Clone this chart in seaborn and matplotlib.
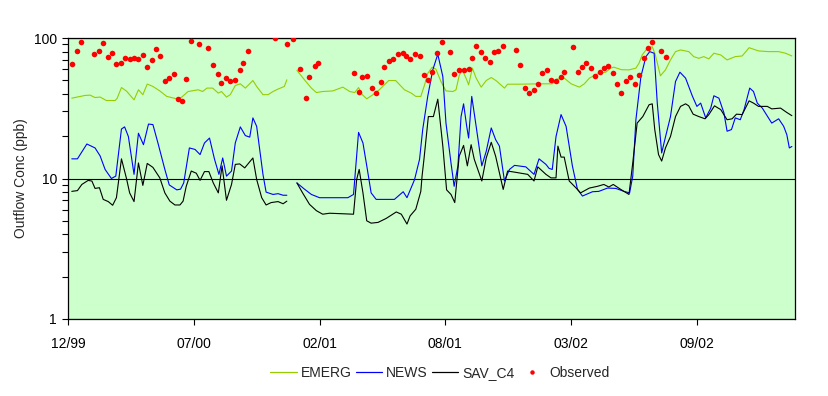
import matplotlib
matplotlib.use("Agg")
import matplotlib.pyplot as plt
import matplotlib.dates as mdates
from matplotlib.lines import Line2D
from matplotlib.ticker import LogLocator, NullFormatter, FuncFormatter, FixedLocator
import numpy as np
import pandas as pd
import seaborn as sns

# day offsets from 1999-12-31, values in ppb
START = pd.Timestamp("1999-12-31")
SEG_BREAK = 356  # model output has a gap around Jan 2001

emerg_days = [6, 27, 35, 43, 51, 61, 75, 78, 85, 93, 105, 112, 119, 126, 135, 146, 157, 173, 180,
              191, 207, 214, 221, 230, 239, 244, 252, 258, 266, 274, 282, 294, 300, 310, 318, 326,
              334, 344, 348,
              364, 376, 387, 395, 405, 421, 437, 448, 456, 462, 468, 475, 485, 495, 510, 521, 535,
              546, 553, 561, 567, 572, 579, 585, 593, 601, 612, 617, 622, 627, 634, 637, 643, 649,
              657, 665, 673, 681, 694, 699, 717, 749, 770, 778, 789, 800, 813, 821, 829, 842, 855,
              863, 868, 880, 892, 903, 908, 913, 921, 929, 934, 942, 950, 958, 966, 974, 987, 995,
              1003, 1011, 1019, 1027, 1038, 1048, 1061, 1072, 1083, 1098, 1114, 1130, 1141, 1151]
emerg_vals = [37.3, 39.0, 39.2, 37.7, 38.0, 35.9, 35.9, 37.1, 44.4, 41.9, 36.3, 42.8, 39.5, 47.0,
              45.2, 42.0, 38.4, 36.9, 37.7, 41.6, 42.8, 41.6, 44.0, 44.0, 40.5, 41.6, 38.0, 39.5,
              45.9, 47.2, 44.0, 49.8, 45.2, 39.5, 39.5, 41.6, 43.3, 45.2, 50.4,
              58.8, 50.4, 44.0, 40.9, 41.6, 42.0, 44.7, 41.6, 40.9, 44.4, 39.5, 36.9, 39.5, 42.8,
              49.8, 49.8, 42.8, 40.5, 38.4, 38.4, 46.4, 56.0, 62.0, 60.0, 49.0, 42.0, 41.6, 42.8,
              54.0, 59.3, 50.4, 46.4, 61.0, 51.8, 44.7, 49.8, 52.3, 49.6, 44.0, 46.9, 46.9, 47.2,
              47.2, 51.0, 51.8, 47.2, 44.7, 47.2, 51.8, 55.6, 57.1, 61.0, 62.0, 59.5, 59.3, 61.0,
              66.2, 75.7, 84.4, 86.7, 75.7, 53.8, 59.3, 69.8, 80.0, 82.2, 80.0, 73.7, 71.7, 73.7,
              71.0, 77.9, 75.7, 69.8, 73.7, 74.5, 85.3, 80.9, 80.0, 80.0, 77.9, 74.5]

news_days = [6, 15, 30, 43, 51, 59, 69, 76, 85, 90, 96, 105, 112, 120, 128, 135, 143, 154, 161,
             173, 179, 184, 193, 202, 210, 217, 225, 233, 240, 246, 252, 260, 266, 274, 282, 289,
             294, 300, 310, 315, 326, 334, 342, 348,
             364, 376, 387, 400, 445, 454, 462, 469, 476, 482, 490, 519, 533, 539, 551, 559, 564,
             572, 580, 588, 596, 601, 609, 614, 620, 625, 629, 634, 637, 642, 649, 658, 665, 673,
             680, 686, 694, 702, 710, 728, 741, 749, 760, 765, 770, 776, 784, 792, 802, 810, 818,
             834, 844, 858, 871, 884, 893, 898, 903, 911, 919, 925, 932, 937, 944, 949, 958, 966,
             973, 982, 993, 1000, 1006, 1014, 1022, 1027, 1035, 1043, 1048, 1055, 1061, 1069,
             1075, 1084, 1090, 1096, 1104, 1119, 1130, 1138, 1143, 1147, 1151]
news_vals = [13.8, 13.8, 17.6, 16.5, 14.5, 11.6, 10.0, 10.4, 22.5, 23.3, 19.9, 10.7, 21.0, 17.4,
             24.4, 24.2, 17.9, 11.6, 9.0, 8.3, 8.4, 9.3, 16.5, 16.1, 14.8, 17.9, 19.4, 13.7, 10.7,
             14.0, 10.4, 11.3, 17.9, 23.3, 20.2, 19.7, 27.0, 23.5, 10.7, 8.0, 7.7, 7.8, 7.6, 7.6,
             9.3, 8.4, 7.7, 7.3, 7.3, 7.7, 21.3, 17.9, 11.6, 7.9, 7.1, 7.1, 8.05, 7.3, 9.8, 13.7,
             22.3, 38.4, 59.3, 76.6, 53.2, 24.8, 12.9, 8.8, 12.3, 27.6, 34.0, 23.5, 19.4, 38.4,
             23.5, 12.3, 15.6, 22.9, 18.9, 17.0, 9.6, 11.6, 12.4, 12.1, 10.7, 13.8, 12.6, 11.8,
             11.6, 19.9, 28.5, 23.5, 12.3, 8.4, 7.5, 8.05, 8.1, 8.55, 8.5, 8.1, 7.9, 10.4, 26.2,
             53.2, 73.7, 80.0, 77.9, 34.4, 15.2, 18.9, 27.6, 49.0, 57.1, 51.8, 38.4, 32.6, 34.4,
             27.0, 31.7, 38.8, 37.3, 29.3, 21.7, 22.3, 27.0, 26.2, 30.9, 44.0, 41.6, 34.4, 31.7,
             24.8, 26.6, 23.5, 20.5, 16.5, 16.9]

sav_days = [6, 15, 22, 32, 38, 43, 50, 56, 64, 71, 77, 85, 93, 98, 105, 112, 119, 126, 135, 146,
            154, 162, 170, 178, 183, 188, 196, 204, 210, 217, 224, 231, 239, 245, 252, 260, 266,
            273, 281, 294, 300, 308, 315, 323, 334, 342, 348,
            364, 373, 384, 395, 405, 416, 454, 459, 463, 469, 475, 482, 493, 506, 522, 530, 539,
            544, 553, 561, 563, 566, 573, 581, 588, 596, 602, 609, 615, 622, 629, 635, 641, 646,
            658, 665, 673, 680, 692, 699, 710, 731, 741, 747, 760, 768, 776, 779, 784, 789, 797,
            808, 815, 829, 842, 852, 860, 867, 879, 892, 898, 905, 914, 924, 929, 933, 939, 944,
            950, 958, 966, 974, 982, 987, 994, 1003, 1013, 1019, 1028, 1038, 1048, 1056, 1063,
            1072, 1083, 1090, 1098, 1112, 1119, 1133, 1143, 1151]
sav_vals = [8.1, 8.2, 9.07, 9.69, 9.59, 8.5, 8.6, 7.1, 6.85, 6.45, 7.3, 13.8, 10.0, 7.9, 6.85,
            12.9, 8.93, 12.8, 12.0, 10.1, 7.9, 6.9, 6.48, 6.48, 6.9, 8.8, 11.3, 10.9, 9.7, 11.2,
            11.2, 9.3, 7.9, 12.3, 7.0, 9.07, 12.6, 12.7, 11.9, 14.0, 9.84, 7.3, 6.48, 6.74, 6.85,
            6.61, 6.9,
            9.3, 7.9, 6.55, 5.9, 5.57, 5.66, 5.57, 9.84, 11.6, 7.9, 5.0, 4.81, 4.87, 5.2, 5.78,
            5.57, 4.74, 5.42, 6.04, 8.1, 10.4, 13.7, 27.6, 27.6, 36.7, 17.0, 8.3, 7.7, 6.74, 14.4,
            17.2, 12.3, 17.4, 13.7, 9.6, 14.0, 18.1, 14.4, 8.36, 11.3, 11.1, 10.7, 9.6, 12.1, 10.7,
            10.1, 10.1, 17.0, 14.2, 14.2, 9.6, 8.55, 7.9, 8.55, 8.8, 9.07, 8.7, 9.07, 8.36, 7.7,
            12.9, 24.8, 27.6, 33.5, 34.0, 22.3, 14.8, 13.3, 16.5, 19.9, 27.6, 32.6, 34.0, 32.9,
            28.7, 27.6, 26.6, 28.5, 32.9, 30.9, 26.2, 26.6, 28.7, 28.5, 35.7, 34.4, 32.6, 32.6,
            31.3, 31.7, 29.5, 28.0]

obs_days = [6, 14, 20, 41, 49, 55, 63, 70, 76, 84, 90, 98, 105, 111, 119, 125, 133, 140, 146,
            154, 160, 168, 175, 181, 188, 195, 209, 223, 230, 238, 244, 251, 258, 265, 273, 279,
            286, 329, 349, 357,
            369, 378, 384, 392, 398, 454, 462, 468, 475, 483, 489, 497, 503, 510, 517, 524, 532,
            538, 544, 552, 559, 566, 573, 579, 587, 594, 608, 614, 622, 629, 637, 643, 649, 657,
            663, 671, 677, 684, 692, 713, 719, 727, 733, 741, 748, 754, 762, 768, 776,
            784, 789, 803, 811, 817, 824, 832, 838, 846, 852, 859, 866, 873, 880, 887, 894, 902,
            908, 916, 922, 929, 943, 951]
obs_vals = [65.7, 81.3, 94.1, 77.4, 81.3, 92.6, 73.7, 78.6, 65.7, 66.8, 72.5, 71.3, 72.5, 71.3,
            76.2, 62.6, 70.1, 83.9, 74.9, 49.8, 52.3, 55.8, 37.1, 35.7, 51.2, 95.7, 91.1, 85.3,
            64.6, 55.2, 48.1, 52.3, 49.8, 50.6, 59.6, 66.8, 81.3, 100.5, 91.1, 98.9,
            60.6, 37.7, 53.2, 63.6, 66.8, 56.7, 41.6, 53.2, 54.0, 44.4, 40.3, 49.0, 62.6, 69.0,
            71.3, 77.4, 78.6, 74.9, 71.3, 77.4, 74.9, 54.9, 50.6, 57.4, 78.6, 94.1, 80.0, 55.8,
            59.6, 59.6, 60.6, 72.5, 88.2, 80.0, 72.5, 67.9, 80.0, 81.3, 88.2, 82.6, 64.6, 44.4,
            40.3, 42.3, 46.7, 56.7, 59.6, 50.6, 49.8,
            53.2, 57.6, 86.8, 57.6, 62.6, 66.8, 61.6, 54.0, 57.6, 61.6, 63.6, 56.7, 46.7, 40.9,
            49.8, 53.2, 47.4, 54.9, 72.5, 85.3, 94.1, 81.3, 73.7]

series_names = ["EMERG", "NEWS", "SAV_C4"]
series_colors = ["#99CC00", "#0000FF", "#000000"]
tick_labels_days = [0, 200, 400, 600, 800, 1000]


def to_dates(days):
    return START + pd.to_timedelta(np.asarray(days), unit="D")


frames = []
for name, days, vals in [("EMERG", emerg_days, emerg_vals),
                         ("NEWS", news_days, news_vals),
                         ("SAV_C4", sav_days, sav_vals)]:
    d = pd.DataFrame({"date": to_dates(days), "conc": vals, "series": name})
    d["seg"] = (np.asarray(days) > SEG_BREAK).astype(int)
    frames.append(d)
lines = pd.concat(frames, ignore_index=True)
obs = pd.DataFrame({"date": to_dates(obs_days), "conc": obs_vals})

sns.set_theme(style="ticks")
plt.rcParams["font.family"] = ["Liberation Sans", "DejaVu Sans"]
plt.rcParams["font.size"] = 10

fig = plt.figure(figsize=(8.29, 3.96), dpi=100)
ax = fig.add_axes([68 / 829, 1 - 319 / 396, 727 / 829, 281 / 396])
ax.set_facecolor("#CCFFCC")

sns.lineplot(data=lines, x="date", y="conc", hue="series", units="seg", estimator=None,
             hue_order=series_names, palette=dict(zip(series_names, series_colors)),
             linewidth=0.8, legend=False, ax=ax, zorder=3)
sns.scatterplot(data=obs, x="date", y="conc", color="#FF0000", s=16, linewidth=0,
                ax=ax, zorder=4, legend=False)

ax.set_yscale("log")
ax.set_ylim(1, 100)
ax.yaxis.set_major_locator(FixedLocator([1, 10, 100]))
ax.yaxis.set_major_formatter(FuncFormatter(lambda v, _: f"{v:g}"))
ax.yaxis.set_minor_locator(LogLocator(base=10, subs=range(2, 10)))
ax.yaxis.set_minor_formatter(NullFormatter())
ax.grid(True, axis="y", which="major", color="black", linewidth=0.8)
ax.set_axisbelow(True)

ax.set_xlim(START, START + pd.Timedelta(days=1156))
ax.xaxis.set_major_locator(FixedLocator(mdates.date2num(to_dates(tick_labels_days))))
ax.xaxis.set_major_formatter(mdates.DateFormatter("%m/%y"))

for s in ax.spines.values():
    s.set_color("black")
    s.set_linewidth(0.9)
ax.tick_params(axis="both", which="major", length=4, width=0.8, color="black",
               labelcolor="black", labelsize=10, pad=4)
ax.tick_params(axis="y", which="minor", length=4, width=0.8, color="black")
ax.tick_params(axis="x", pad=9)

ax.set_xlabel("")
ax.set_ylabel("Outflow Conc (ppb)", fontsize=10, labelpad=4)

handles = [Line2D([], [], color=c, lw=0.9) for c in series_colors]
handles.append(Line2D([], [], color="#FF0000", marker="o", markersize=2.2, lw=0))
fig.legend(handles, series_names + ["Observed"], loc="center", ncol=4, frameon=False,
           bbox_to_anchor=(440 / 829, 1 - 373 / 396), handlelength=1.9,
           handletextpad=0.3, columnspacing=0.3, fontsize=10)

fig.savefig("out.png", dpi=100, facecolor="white")
